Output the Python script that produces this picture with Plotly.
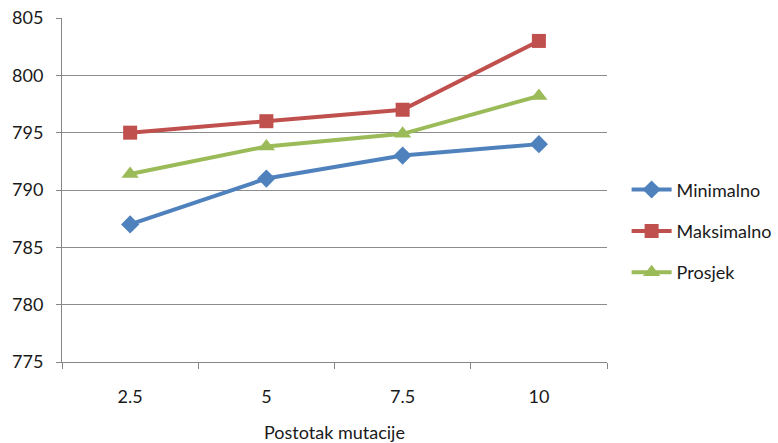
import plotly.graph_objects as go

# Mutation-rate experiment results
categories = ["2.5", "5", "7.5", "10"]
minimalno = [787, 791, 793, 794]
maksimalno = [795, 796, 797, 803]
prosjek = [791.4, 793.8, 794.9, 798.2]

y_ticks = [775, 780, 785, 790, 795, 800, 805]

series = [
    ("Minimalno", minimalno, "#4F81BD", "diamond", 14),
    ("Maksimalno", maksimalno, "#C0504D", "square", 14),
    ("Prosjek", prosjek, "#9BBB59", "triangle-up", 15),
]

fig = go.Figure()
for name, vals, color, symbol, size in series:
    fig.add_trace(go.Scatter(
        x=categories, y=vals, name=name, legendgroup=name,
        mode="lines+markers",
        line=dict(color=color, width=4),
        marker=dict(symbol=symbol, size=size, color=color),
    ))

font_family = "Lato, Open Sans, sans-serif"
text_color = "#1a1a1a"
fig.update_layout(
    width=778, height=443,
    margin=dict(l=62, r=171, t=18, b=81, autoexpand=False),
    paper_bgcolor="white", plot_bgcolor="white",
    font=dict(family=font_family, size=18, color=text_color),
    showlegend=True,
    legend=dict(
        x=1.036, y=0.38, xanchor="left", yanchor="middle",
        traceorder="grouped", tracegroupgap=15,
        font=dict(size=18, color=text_color),
        itemwidth=40,
    ),
    xaxis=dict(
        type="category",
        automargin=False,
        showgrid=False,
        showline=True, linecolor="#868686", linewidth=1,
        ticks="outside", tickson="boundaries", ticklen=6, tickcolor="#868686",
        ticklabelstandoff=18,
        title=dict(text="Postotak mutacije", standoff=20,
                   font=dict(size=18, color=text_color)),
        range=[-0.5, 3.5],
    ),
    yaxis=dict(
        automargin=False,
        range=[775, 805],
        tickvals=y_ticks,
        showgrid=True, gridcolor="#8C8C8C", gridwidth=1,
        showline=True, linecolor="#868686", linewidth=1,
        ticks="outside", ticklen=5, tickcolor="#868686",
        ticklabelstandoff=9,
        zeroline=False,
    ),
)

fig.write_html("out.html")
